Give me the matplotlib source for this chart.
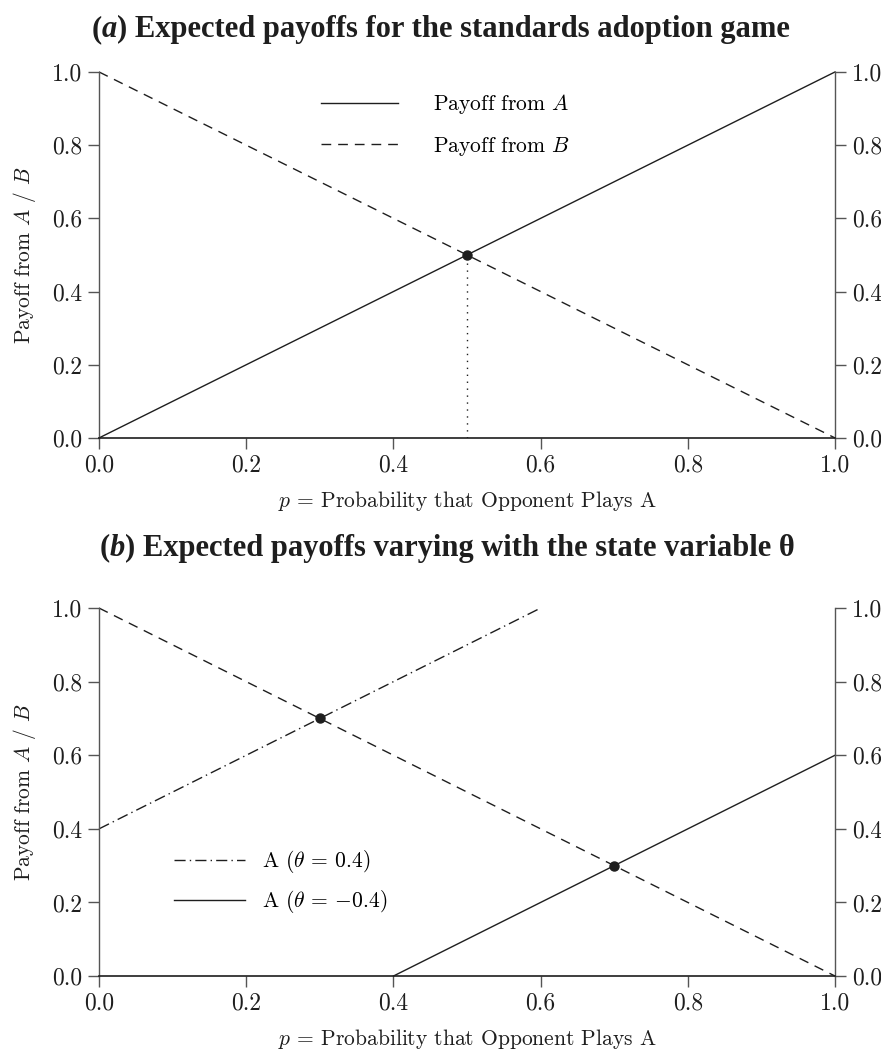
import matplotlib
matplotlib.use('Agg')
import matplotlib.pyplot as plt
from matplotlib.ticker import FormatStrFormatter

plt.rcParams['font.family'] = ['cmr10', 'DejaVu Serif']
plt.rcParams['mathtext.fontset'] = 'cm'
plt.rcParams['axes.formatter.use_mathtext'] = True
plt.rcParams['font.size'] = 15

# payoff lines (p, payoff)
p_line = [0.0, 1.0]
payoff_a = [0.0, 1.0]
payoff_b = [1.0, 0.0]
eq_a = (0.5, 0.5)

p_hi = [0.0, 0.6]
payoff_a_hi = [0.4, 1.0]      # theta = 0.4
p_lo = [0.4, 1.0]
payoff_a_lo = [0.0, 0.6]      # theta = -0.4
eq_b = ([0.3, 0.7], [0.7, 0.3])

ticks = [0.0, 0.2, 0.4, 0.6, 0.8, 1.0]
titles = [('a', ' Expected payoffs for the standards adoption game'),
          ('b', ' Expected payoffs varying with the state variable θ')]
ink = '#1e1e1e'
spine_c = '#555555'

fig = plt.figure(figsize=(8.81, 10.52), dpi=100)
ax1 = fig.add_axes([0.1124, 0.5837, 0.8354, 0.3479])
ax2 = fig.add_axes([0.1124, 0.0722, 0.8354, 0.3498])

def style(ax):
    ax.set_xlim(0, 1)
    ax.set_ylim(0, 1)
    ax.set_xticks(ticks)
    ax.set_yticks(ticks)
    ax.xaxis.set_major_formatter(FormatStrFormatter('%.1f'))
    ax.yaxis.set_major_formatter(FormatStrFormatter('%.1f'))
    ax.spines['top'].set_visible(False)
    for s in ['left', 'right']:
        ax.spines[s].set_color(spine_c)
        ax.spines[s].set_linewidth(1.0)
    ax.spines['bottom'].set_color(ink)
    ax.spines['bottom'].set_linewidth(1.2)
    ax.tick_params(direction='out', length=8, width=1.0, color=spine_c,
                   labelsize=17, labelcolor=ink, pad=4)
    ax.tick_params(axis='y', right=True, labelright=True)
    ax.set_xlabel(r'$p$ = Probability that Opponent Plays A', fontsize=15.5, color=ink, labelpad=9)
    ax.set_ylabel(r'Payoff from $A$ / $B$', fontsize=15.5, color=ink, labelpad=10)

# (a)
style(ax1)
ax1.plot(p_line, payoff_a, color=ink, lw=1.0, label=r'Payoff from $A$', clip_on=False)
ax1.plot(p_line, payoff_b, color=ink, lw=1.0, ls=(0, (7, 5)), label=r'Payoff from $B$', clip_on=False)
ax1.plot([eq_a[0], eq_a[0]], [0, eq_a[1]], color=ink, lw=1.0, ls=(0, (1, 4)))
ax1.plot(eq_a[0], eq_a[1], 'o', color=ink, ms=6.5, zorder=5)
ax1.legend(loc='upper left', bbox_to_anchor=(0.275, 0.997), frameon=False,
           handlelength=3.6, handletextpad=1.6, labelspacing=0.85, fontsize=15.5)

# (b)
style(ax2)
ax2.plot(p_line, payoff_b, color=ink, lw=1.0, ls=(0, (7, 5)), clip_on=False)
ax2.plot(p_hi, payoff_a_hi, color=ink, lw=1.0, ls=(0, (8, 3, 1, 3)),
         label=r'A ($\theta$ = 0.4)', clip_on=False)
ax2.plot(p_lo, payoff_a_lo, color=ink, lw=1.0, label=r'A ($\theta$ = $-$0.4)', clip_on=False)
ax2.plot(eq_b[0], eq_b[1], 'o', color=ink, ms=6.5, zorder=5, ls='none')
ax2.legend(loc='upper left', bbox_to_anchor=(0.075, 0.40), frameon=False,
           handlelength=3.3, handletextpad=0.8, labelspacing=0.6, fontsize=15.5)

# panel titles: "(", italic letter, ")" + text, placed piece by piece
title_font = dict(family='Liberation Serif', weight='bold', size=22, color=ink)
renderer = fig.canvas.get_renderer()
for (letter, rest), y, shift in zip(titles, [0.972, 0.479], [0, 7]):
    parts = [('(', 'normal'), (letter, 'italic'), (')' + rest, 'normal')]
    widths = []
    for s, st in parts:
        t = fig.text(0, 0, s, style=st, **title_font)
        widths.append(t.get_window_extent(renderer).width)
        t.remove()
    x = 0.5 * fig.bbox.width - 0.5 * sum(widths) + shift
    for (s, st), w in zip(parts, widths):
        fig.text(x / fig.bbox.width, y, s, style=st, ha='left', va='center', **title_font)
        x += w

fig.savefig('out.png', dpi=100)
